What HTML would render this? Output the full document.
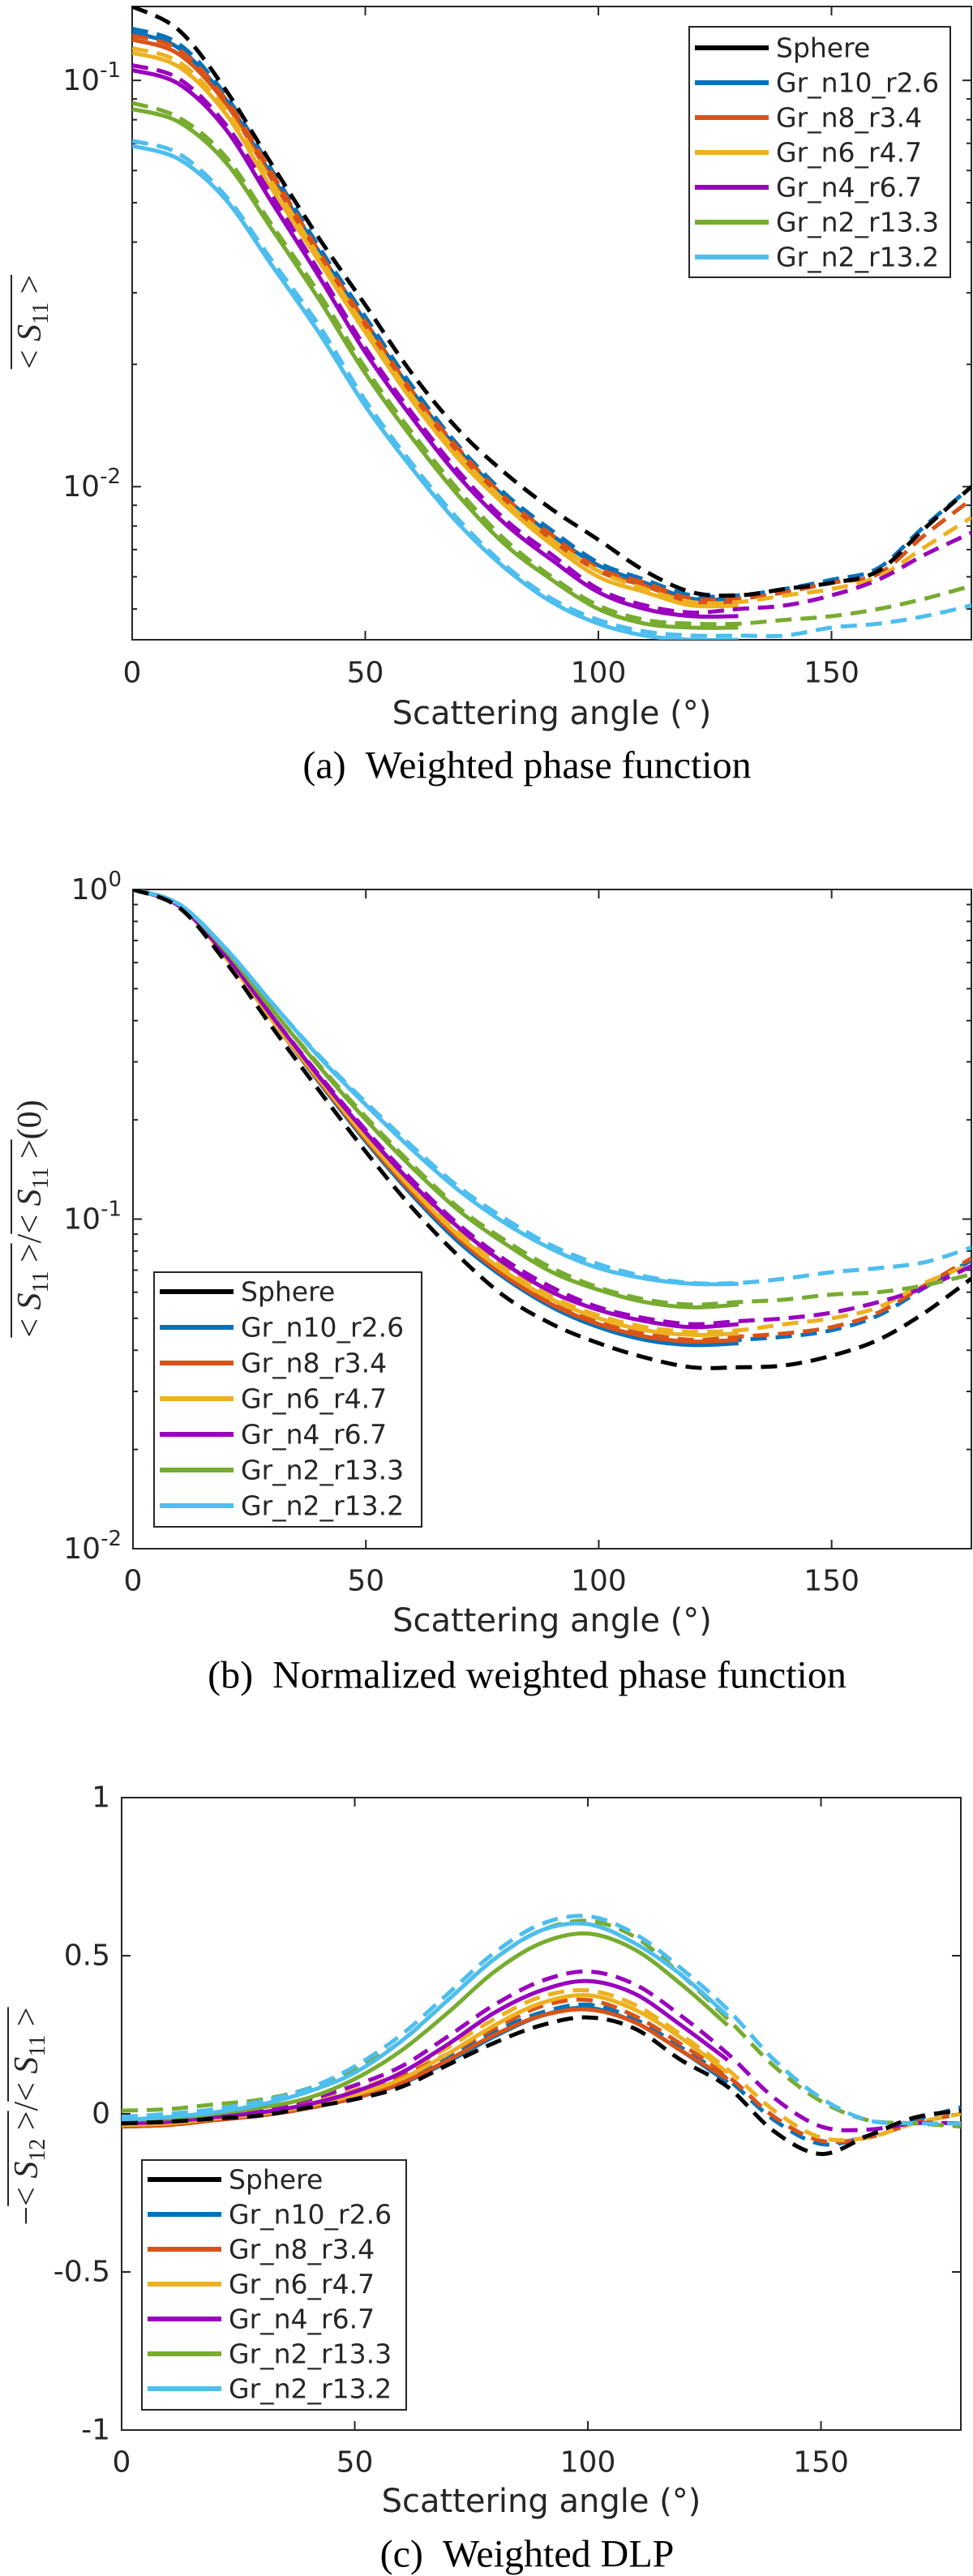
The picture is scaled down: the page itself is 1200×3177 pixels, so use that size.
<!DOCTYPE html>
<html><head><meta charset="utf-8"><title>Weighted phase function charts</title>
<style>
html,body{margin:0;padding:0;background:#fff;}
svg{display:block;}
text{font-family:"DejaVu Sans","Liberation Sans",sans-serif;fill:#262626;}
.cap{font-family:"Liberation Serif",serif;fill:#000;}
.math{font-family:"Liberation Serif",serif;font-style:italic;fill:#262626;}
.mathn{font-family:"Liberation Serif",serif;fill:#262626;}
</style></head>
<body>
<svg id="fig" width="1200" height="3177" viewBox="0 0 1200 3177" xmlns="http://www.w3.org/2000/svg"></svg>
<script>
// ---------- shared data ----------
const seriesNames = ["Sphere","Gr_n10_r2.6","Gr_n8_r3.4","Gr_n6_r4.7","Gr_n4_r6.7","Gr_n2_r13.3","Gr_n2_r13.2"];
const seriesColors = ["#000000","#0072BD","#D95319","#EDB120","#9A00BE","#77AC30","#4DBEEE"];
const anglesFull = [0,10,20,30,40,50,60,70,80,90,100,110,120,130,140,150,160,170,180];
const anglesSolid = [0,10,20,30,40,50,60,70,80,90,100,110,120,130];
const xTicks = [0,50,100,150];

// ---------- chart (a) weighted phase function ----------
const aSphere = [0.152,0.133,0.095,0.062,0.041,0.028,0.019,0.0138,0.0108,0.0088,0.0074,0.0062,0.0055,0.0054,0.0056,0.0058,0.0062,0.0079,0.0100];
const aSolid = [
  [0.131,0.120,0.090,0.058,0.038,0.0255,0.0172,0.0123,0.0094,0.0076,0.0064,0.0058,0.0053,0.0053],
  [0.126,0.116,0.088,0.057,0.037,0.0248,0.0168,0.0121,0.0092,0.0074,0.0062,0.0057,0.0052,0.0052],
  [0.117,0.108,0.083,0.054,0.036,0.0240,0.0163,0.0117,0.0090,0.0072,0.0060,0.0055,0.0051,0.0051],
  [0.106,0.098,0.076,0.050,0.033,0.0214,0.0148,0.0106,0.0081,0.0066,0.0055,0.0050,0.0048,0.0048],
  [0.085,0.079,0.063,0.043,0.029,0.0190,0.0132,0.0095,0.0072,0.0059,0.0050,0.0046,0.0045,0.0045],
  [0.069,0.064,0.051,0.035,0.024,0.0158,0.0111,0.0081,0.0063,0.0052,0.0046,0.0043,0.0042,0.0042]
];
const aDashed = [
  [0.134,0.123,0.092,0.060,0.039,0.0262,0.0177,0.0126,0.0096,0.0078,0.0065,0.0059,0.0054,0.0054,0.0056,0.0059,0.0063,0.0080,0.0100],
  [0.129,0.119,0.090,0.059,0.038,0.0255,0.0172,0.0124,0.0094,0.0076,0.0063,0.0058,0.0053,0.0053,0.0055,0.0058,0.0061,0.0076,0.0093],
  [0.120,0.111,0.085,0.056,0.037,0.0246,0.0167,0.0120,0.0092,0.0074,0.0062,0.0056,0.0052,0.0052,0.0054,0.0056,0.0060,0.0071,0.0084],
  [0.109,0.101,0.078,0.052,0.034,0.0220,0.0152,0.0109,0.0083,0.0068,0.0056,0.0051,0.0049,0.0050,0.0051,0.0054,0.0059,0.0068,0.0077],
  [0.088,0.081,0.065,0.044,0.030,0.0196,0.0136,0.0098,0.0074,0.0060,0.0051,0.0047,0.0046,0.0046,0.0047,0.0048,0.0050,0.0053,0.0057],
  [0.071,0.066,0.052,0.036,0.025,0.0163,0.0114,0.0083,0.0064,0.0053,0.0047,0.0044,0.0043,0.0043,0.0043,0.0045,0.0046,0.0048,0.0051]
];

// ---------- chart (b) normalized ----------
const bSphere = [1,0.88,0.60,0.38,0.245,0.160,0.108,0.077,0.058,0.048,0.042,0.038,0.0355,0.0355,0.036,0.0385,0.043,0.052,0.066];
const bSolid = [
  [1,0.89,0.62,0.40,0.260,0.172,0.118,0.085,0.066,0.054,0.047,0.043,0.0415,0.042],
  [1,0.89,0.62,0.40,0.262,0.174,0.120,0.087,0.067,0.055,0.048,0.044,0.0425,0.043],
  [1,0.89,0.62,0.40,0.265,0.177,0.123,0.089,0.069,0.057,0.050,0.046,0.0445,0.045],
  [1,0.89,0.63,0.41,0.270,0.183,0.128,0.094,0.073,0.060,0.053,0.049,0.047,0.048],
  [1,0.90,0.65,0.43,0.290,0.200,0.143,0.106,0.084,0.069,0.061,0.056,0.054,0.055],
  [1,0.90,0.66,0.45,0.310,0.222,0.162,0.122,0.097,0.081,0.071,0.066,0.0636,0.0636]
];
const bDashed = [
  [1,0.89,0.62,0.40,0.262,0.174,0.120,0.086,0.067,0.055,0.048,0.044,0.042,0.043,0.044,0.046,0.051,0.062,0.075],
  [1,0.89,0.62,0.40,0.264,0.176,0.122,0.088,0.068,0.056,0.049,0.045,0.043,0.044,0.045,0.047,0.052,0.063,0.076],
  [1,0.89,0.62,0.40,0.267,0.180,0.125,0.091,0.071,0.058,0.051,0.047,0.0455,0.046,0.048,0.050,0.054,0.064,0.073],
  [1,0.89,0.63,0.41,0.273,0.186,0.131,0.096,0.075,0.062,0.054,0.050,0.048,0.049,0.050,0.052,0.056,0.062,0.072],
  [1,0.90,0.65,0.43,0.293,0.204,0.146,0.108,0.086,0.071,0.062,0.057,0.055,0.056,0.057,0.059,0.060,0.063,0.068],
  [1,0.90,0.66,0.45,0.313,0.226,0.166,0.125,0.100,0.083,0.073,0.067,0.064,0.064,0.066,0.069,0.071,0.074,0.082]
];

// ---------- chart (c) DLP ----------
const cSphere = [-0.03,-0.025,-0.015,-0.005,0.02,0.046,0.085,0.155,0.225,0.28,0.305,0.27,0.17,0.085,-0.056,-0.127,-0.07,-0.012,0.01];
const cSolid = [
  [-0.04,-0.035,-0.02,-0.005,0.018,0.05,0.095,0.165,0.245,0.31,0.335,0.29,0.20,0.10],
  [-0.04,-0.035,-0.02,-0.005,0.018,0.05,0.097,0.17,0.25,0.31,0.33,0.29,0.20,0.11],
  [-0.035,-0.03,-0.015,0.0,0.025,0.06,0.11,0.19,0.28,0.35,0.375,0.33,0.24,0.13],
  [-0.03,-0.025,-0.01,0.005,0.03,0.07,0.13,0.22,0.32,0.39,0.42,0.38,0.28,0.17],
  [-0.02,-0.015,0.0,0.02,0.05,0.11,0.20,0.32,0.45,0.54,0.57,0.52,0.41,0.28],
  [-0.02,-0.01,0.005,0.03,0.07,0.13,0.23,0.36,0.49,0.58,0.60,0.54,0.44,0.31]
];
const cDashed = [
  [-0.03,-0.025,-0.01,0.005,0.03,0.065,0.11,0.18,0.26,0.32,0.345,0.30,0.21,0.11,-0.02,-0.095,-0.07,-0.02,0.02],
  [-0.03,-0.025,-0.01,0.005,0.03,0.07,0.12,0.19,0.27,0.34,0.36,0.31,0.22,0.12,-0.01,-0.085,-0.075,-0.03,0.0],
  [-0.025,-0.02,-0.005,0.01,0.035,0.075,0.13,0.21,0.30,0.37,0.39,0.345,0.25,0.14,0.01,-0.075,-0.075,-0.03,0.0],
  [-0.02,-0.015,0.0,0.015,0.045,0.09,0.15,0.245,0.345,0.42,0.45,0.41,0.31,0.19,0.05,-0.04,-0.05,-0.03,-0.03],
  [0.01,0.015,0.03,0.045,0.08,0.14,0.23,0.36,0.49,0.58,0.61,0.56,0.44,0.30,0.15,0.04,-0.02,-0.03,-0.04],
  [-0.01,0.0,0.015,0.04,0.08,0.15,0.25,0.38,0.51,0.60,0.625,0.57,0.46,0.33,0.17,0.05,-0.02,-0.03,-0.03]
];

const NS = "http://www.w3.org/2000/svg";
const svg = document.getElementById('fig');
function mk(tag, attrs, parent){
  const e = document.createElementNS(NS, tag);
  for (const k in attrs) e.setAttribute(k, attrs[k]);
  (parent||svg).appendChild(e);
  return e;
}
function smoothPath(pts){
  let d = "M" + pts[0][0].toFixed(1) + "," + pts[0][1].toFixed(1);
  for (let i=0;i<pts.length-1;i++){
    const p0=pts[i-1]||pts[i], p1=pts[i], p2=pts[i+1], p3=pts[i+2]||p2;
    const c1=[p1[0]+(p2[0]-p0[0])/6, p1[1]+(p2[1]-p0[1])/6];
    const c2=[p2[0]-(p3[0]-p1[0])/6, p2[1]-(p3[1]-p1[1])/6];
    d += " C"+c1[0].toFixed(1)+","+c1[1].toFixed(1)+" "+c2[0].toFixed(1)+","+c2[1].toFixed(1)+" "+p2[0].toFixed(1)+","+p2[1].toFixed(1);
  }
  return d;
}

function mathLabel(parent, cx, cy, pieces){
  const outer = mk('g', {transform:'translate('+cx+','+cy+') rotate(-90)'}, parent);
  
  
  const inner = mk('g', {}, outer);
  let x = 0;
  pieces.forEach(p => {
    const startX = x;
    p.parts.forEach(q => {
      const t = mk('text', {x:x, y:q.sub ? 9 : 0, 'font-size':q.sub ? 28 : 42, class:q.italic ? 'math' : 'mathn'}, inner);
      t.textContent = q.t;
      x += t.getComputedTextLength();
    });
    if (p.over){
      mk('line', {x1:startX, y1:-36, x2:x, y2:-36, stroke:'#262626', 'stroke-width':2}, inner);
    }
  });
  inner.setAttribute('transform', 'translate(' + (-x/2).toFixed(1) + ',0)');
}
const S11 = {over:true, parts:[{t:'<\u00a0',italic:false},{t:'S',italic:true},{t:'11',sub:true},{t:'\u00a0>',italic:false}]};
const S12 = {over:true, parts:[{t:'<\u00a0',italic:false},{t:'S',italic:true},{t:'12',sub:true},{t:'\u00a0>',italic:false}]};

function drawChart(cfg){
  const g = mk('g', {});
  
  
  const xs = v => cfg.x0 + (v-0)/(180-0)*(cfg.x1-cfg.x0);
  const ys = cfg.log
    ? v => cfg.y1 - (Math.log10(v)-Math.log10(cfg.ymin))/(Math.log10(cfg.ymax)-Math.log10(cfg.ymin))*(cfg.y1-cfg.y0)
    : v => cfg.y1 - (v-cfg.ymin)/(cfg.ymax-cfg.ymin)*(cfg.y1-cfg.y0);
  const clipId = cfg.name + '-clip';
  const defs = mk('defs', {}, g);
  const cp = mk('clipPath', {id: clipId}, defs);
  mk('rect', {x:cfg.x0, y:cfg.y0, width:cfg.x1-cfg.x0, height:cfg.y1-cfg.y0}, cp);

  const box = mk('rect', {x:cfg.x0, y:cfg.y0, width:cfg.x1-cfg.x0, height:cfg.y1-cfg.y0, fill:'none', stroke:'#262626', 'stroke-width':2}, g);
  
  

  xTicks.forEach(t => {
    const x = xs(t);
    mk('line', {x1:x, y1:cfg.y1, x2:x, y2:cfg.y1-11, stroke:'#262626','stroke-width':2}, g);
    mk('line', {x1:x, y1:cfg.y0, x2:x, y2:cfg.y0+11, stroke:'#262626','stroke-width':2}, g);
    const lab = mk('text', {x:x, y:cfg.xLabelY, 'font-size':36, 'text-anchor':'middle', 'dominant-baseline':'central'}, g);
    lab.textContent = String(t);
    
    
  });

  if (cfg.log){
    const lo = Math.floor(Math.log10(cfg.ymin)), hi = Math.ceil(Math.log10(cfg.ymax));
    for (let e=lo; e<=hi; e++){
      for (let m=1; m<10; m++){
        const v = m*Math.pow(10,e);
        if (v < cfg.ymin*0.999 || v > cfg.ymax*1.001) continue;
        const y = ys(v), len = m===1 ? 11 : 6;
        mk('line', {x1:cfg.x0, y1:y, x2:cfg.x0+len, y2:y, stroke:'#262626','stroke-width':2}, g);
        mk('line', {x1:cfg.x1, y1:y, x2:cfg.x1-len, y2:y, stroke:'#262626','stroke-width':2}, g);
        if (m===1){
          const lab = mk('text', {x:cfg.x0-14, y:y+12, 'font-size':36, 'text-anchor':'end'}, g);
          
          
          const t1 = mk('tspan', {}, lab); t1.textContent = '10';
          const t2 = mk('tspan', {dy:-16, 'font-size':26}, lab); t2.textContent = String(e);
        }
      }
    }
  } else {
    cfg.yTicks.forEach((v,i) => {
      const y = ys(v);
      mk('line', {x1:cfg.x0, y1:y, x2:cfg.x0+11, y2:y, stroke:'#262626','stroke-width':2}, g);
      mk('line', {x1:cfg.x1, y1:y, x2:cfg.x1-11, y2:y, stroke:'#262626','stroke-width':2}, g);
      const lab = mk('text', {x:cfg.x0-14, y:y, 'font-size':36, 'text-anchor':'end', 'dominant-baseline':'central'}, g);
      lab.textContent = cfg.yTickLabels[i];
      
      
    });
  }

  const plot = mk('g', {'clip-path':'url(#'+clipId+')'}, g);
  for (let s=0; s<6; s++){
    const col = seriesColors[s+1];
    const ptsS = anglesSolid.map((a,i)=>[xs(a), ys(cfg.solid[s][i])]);
    const pS = mk('path', {d:smoothPath(ptsS), fill:'none', stroke:col, 'stroke-width':5, 'stroke-linejoin':'round'}, plot);
    
    
    const ptsD = anglesFull.map((a,i)=>[xs(a), ys(cfg.dashed[s][i])]);
    const pD = mk('path', {d:smoothPath(ptsD), fill:'none', stroke:col, 'stroke-width':5, 'stroke-dasharray':'20 11'}, plot);
    
    
  }
  const ptsSp = anglesFull.map((a,i)=>[xs(a), ys(cfg.sphere[i])]);
  const pSp = mk('path', {d:smoothPath(ptsSp), fill:'none', stroke:'#000', 'stroke-width':5, 'stroke-dasharray':'20 11'}, plot);
  
  

  const L = cfg.legend;
  const lg = mk('g', {}, g);
  
  
  mk('rect', {x:L.x, y:L.y, width:L.w, height:L.h, fill:'#fff', stroke:'#262626', 'stroke-width':2}, lg);
  seriesNames.forEach((nm,i) => {
    const ey = L.y + L.first + i*L.step;
    const eg = mk('g', {}, lg);
    
    
    mk('line', {x1:L.x+7, y1:ey, x2:L.x+98, y2:ey, stroke:seriesColors[i], 'stroke-width':6}, eg);
    const t = mk('text', {x:L.x+107, y:ey, 'font-size':33, 'dominant-baseline':'central', fill:'#000'}, eg);
    t.textContent = nm;
  });

  const xt = mk('text', {x:(cfg.x0+cfg.x1)/2, y:cfg.titleY, 'font-size':40, 'text-anchor':'middle', 'dominant-baseline':'central'}, g);
  xt.textContent = 'Scattering angle (°)';
  
  

  mathLabel(g, cfg.yTitleX, cfg.yTitleY, cfg.yPieces);

  const cap = mk('text', {x:650, y:cfg.capY, 'font-size':48, 'text-anchor':'middle', 'dominant-baseline':'central', class:'cap'}, g);
  cap.textContent = cfg.caption;
  
  
}

drawChart({name:'chart-a-weighted-phase', x0:163, x1:1198, y0:8, y1:789, log:true, ymin:0.0042, ymax:0.152,
  xLabelY:830, titleY:880, capY:944, yTitleX:50, yTitleY:397,
  sphere:aSphere, solid:aSolid, dashed:aDashed,
  legend:{x:850, y:33, w:322, h:309, first:26, step:43},
  caption:'(a)\u00a0\u00a0Weighted phase function',
  yPieces:[S11]});

drawChart({name:'chart-b-normalized', x0:164, x1:1198, y0:1097, y1:1910, log:true, ymin:0.01, ymax:1,
  xLabelY:1950, titleY:1999, capY:2066, yTitleX:50, yTitleY:1503,
  sphere:bSphere, solid:bSolid, dashed:bDashed,
  legend:{x:190, y:1569, w:330, h:314, first:24, step:44},
  caption:'(b)\u00a0\u00a0Normalized weighted phase function',
  yPieces:[S11, {over:false, parts:[{t:'/',italic:false}]}, S11, {over:false, parts:[{t:'(0)',italic:false}]}]});

const cYTicks = [1,0.5,0,-0.5,-1];
const cYTickLabels = ['1','0.5','0','-0.5','-1'];
drawChart({name:'chart-c-dlp', x0:150, x1:1185, y0:2217, y1:2997, log:false, ymin:-1, ymax:1,
  yTicks:cYTicks, yTickLabels:cYTickLabels,
  xLabelY:3037, titleY:3085, capY:3150, yTitleX:46, yTitleY:2610,
  sphere:cSphere, solid:cSolid, dashed:cDashed,
  legend:{x:175, y:2664, w:326, h:308, first:24, step:43},
  caption:'(c)\u00a0\u00a0Weighted DLP',
  yPieces:[{over:false, parts:[{t:'−',italic:false}]}, S12, {over:false, parts:[{t:'/',italic:false}]}, S11]});
</script>
</body></html>
